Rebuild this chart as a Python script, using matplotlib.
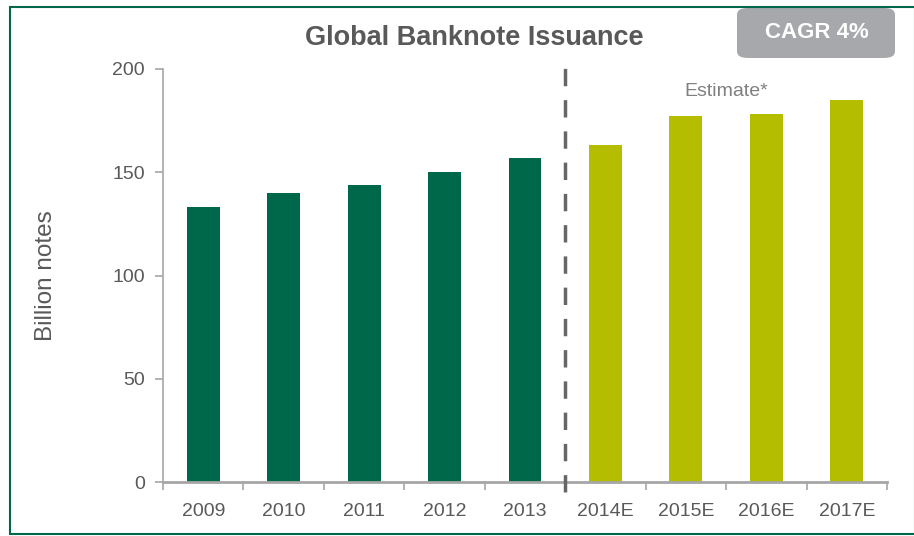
import matplotlib
matplotlib.use("Agg")
import matplotlib.pyplot as plt
from matplotlib.patches import Rectangle, FancyBboxPatch
import numpy as np

plt.rcParams['font.family'] = ['Liberation Sans', 'DejaVu Sans']

years = ["2009", "2010", "2011", "2012", "2013", "2014E", "2015E", "2016E", "2017E"]
issued = [133, 140, 144, 150, 157, 163, 177, 178, 185]
n_actual = 5

green = "#00684a"
lime = "#b5bd00"
grey_txt = "#595959"
axis_grey = "#a6a6a6"

fig = plt.figure(figsize=(9.14, 5.36), dpi=100)
ax = fig.add_axes([0.1783, 0.1007, 0.7922, 0.7706])

x = np.arange(len(years))
colors = [green] * n_actual + [lime] * (len(years) - n_actual)
ax.bar(x, issued, width=0.41, color=colors, zorder=2)

ax.set_xlim(-0.5, len(years) - 0.5)
ax.set_ylim(0, 200)
ax.set_yticks([0, 50, 100, 150, 200])
ax.set_xticks(x)
ax.set_xticklabels(years)
ax.set_xticks(np.arange(-0.5, len(years), 1.0), minor=True)
ax.tick_params(axis='x', which='major', length=0, pad=15, labelsize=14, labelcolor=grey_txt)
ax.tick_params(axis='x', which='minor', length=6, color=axis_grey, width=1.2, direction='out')
ax.tick_params(axis='y', length=6, color=axis_grey, width=1.2, pad=7, labelsize=14, labelcolor=grey_txt)

for s in ['top', 'right']:
    ax.spines[s].set_visible(False)
ax.spines['left'].set_color(axis_grey)
ax.spines['bottom'].set_color(axis_grey)
ax.spines['left'].set_linewidth(1.2)
ax.spines['bottom'].set_linewidth(2)

ax.set_ylabel("Billion notes", fontsize=17.5, color=grey_txt)
ax.yaxis.set_label_coords(-0.146, 0.5)

# split between actuals and estimates
ax.plot([n_actual - 0.5, n_actual - 0.5], [-5, 201], color="#666666", lw=2.5,
        dashes=(5, 4), clip_on=False, zorder=3)

ax.text(6.5, 189, "Estimate*", ha='center', va='center', fontsize=14, color="#808080")

fig.text(0.519, 0.929, "Global Banknote Issuance", ha='center', va='center',
         fontsize=19.5, fontweight='bold', color=grey_txt)

box = FancyBboxPatch((737 / 914, 1 - 58 / 536), 158 / 914, 50 / 536,
                     boxstyle="round,pad=0,rounding_size=0.012", transform=fig.transFigure,
                     facecolor="#a6a8ab", edgecolor='none')
fig.patches.append(box)
fig.text(817 / 914, 1 - 33 / 536, "CAGR 4%", ha='center', va='center',
         fontsize=16, fontweight='bold', color='white')

# outer frame
fig.patches.append(Rectangle((10 / 914, 2 / 536), 0.99, 1 - 9 / 536, transform=fig.transFigure,
                             fill=False, edgecolor=green, lw=1.5))

fig.savefig("out.png", dpi=100)
